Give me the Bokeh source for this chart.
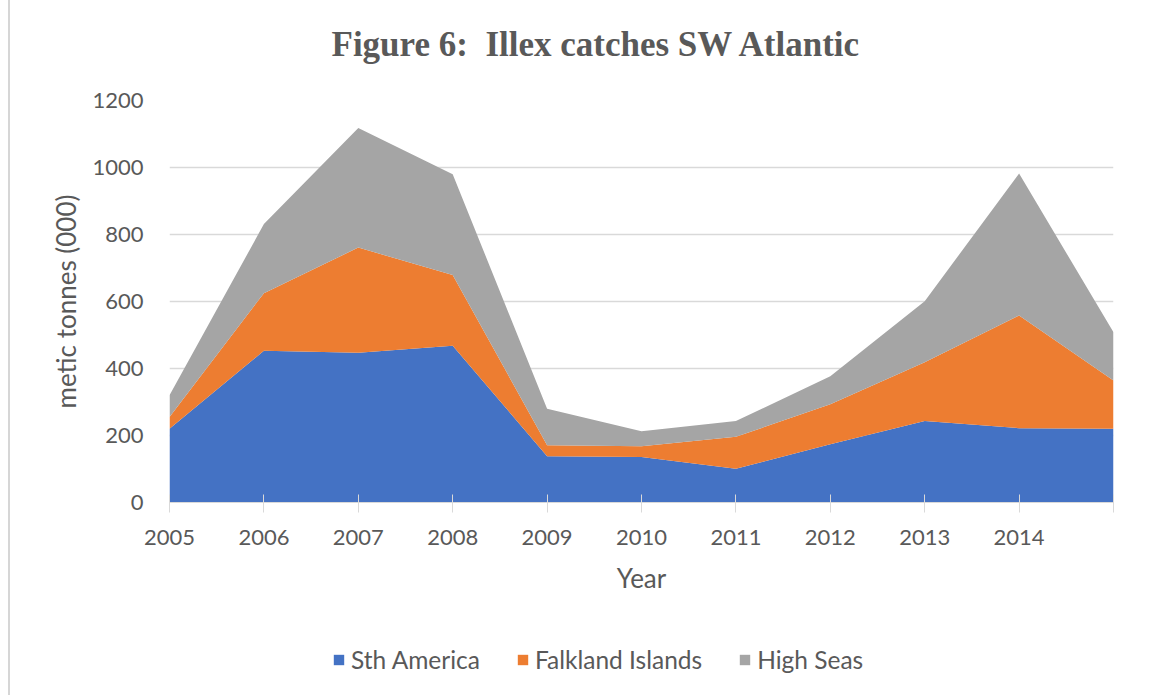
from bokeh.plotting import figure
from bokeh.layouts import column, row
from bokeh.models import (ColumnDataSource, FixedTicker, Legend, LegendItem,
                          Range1d, Label, Div)
from bokeh.embed import file_html
from bokeh.resources import INLINE

# Illex catches in the SW Atlantic, thousands of tonnes, by fishing area
years = [2005, 2006, 2007, 2008, 2009, 2010, 2011, 2012, 2013, 2014, 2015]
sth_america = [220, 453, 447, 468, 138, 136, 101, 174, 243, 222, 220]
falkland_islands = [35, 172, 314, 211, 33, 32, 95, 119, 176, 336, 144]
high_seas = [65, 206, 357, 301, 109, 45, 47, 84, 182, 424, 144]

series_names = ["Sth America", "Falkland Islands", "High Seas"]
series_colors = ["#4472C4", "#ED7D31", "#A5A5A5"]
x_tick_labels = ["2005", "2006", "2007", "2008", "2009", "2010",
                 "2011", "2012", "2013", "2014", ""]
y_ticks = [0, 200, 400, 600, 800, 1000, 1200]
title_text = "Figure 6:\u00a0 Illex catches SW Atlantic"

TEXT = "#595959"
GRID = "#D9D9D9"
FONT = "Lato"
EDGE = 10          # strip holding the chart box's left rule
W = 1165 - EDGE
LEFT, RIGHT = 169 - EDGE, 52      # borders around the plotting frame
FRAME_W = W - LEFT - RIGHT

source = ColumnDataSource(dict(year=years, sa=sth_america,
                               fi=falkland_islands, hs=high_seas))


def blank_strip(height):
    """A figure whose frame is only used to hold an annotation."""
    f = figure(width=W, height=height, output_backend="svg",
               toolbar_location=None, x_range=Range1d(0, FRAME_W),
               y_range=Range1d(0, height), min_border=0, title=None)
    f.axis.visible = False
    f.grid.visible = False
    f.outline_line_color = None
    f.background_fill_color = "white"
    f.border_fill_color = "white"
    return f


# ---- title strip -----------------------------------------------------------
tf = blank_strip(80)
tf.add_layout(Label(x=162, y=36, x_units="screen", y_units="screen",
                    text=title_text, text_font="Liberation Serif",
                    text_font_style="bold", text_font_size="35px",
                    text_color=TEXT, text_align="left",
                    text_baseline="alphabetic"))

# ---- main chart -----------------------------------------------------------
p = figure(width=W, height=545, output_backend="svg", toolbar_location=None,
           x_range=Range1d(2005, 2015), y_range=Range1d(0, 1200),
           min_border_left=LEFT, min_border_right=RIGHT,
           min_border_top=20, min_border_bottom=123, title=None)
p.outline_line_color = None
p.background_fill_color = "white"
p.border_fill_color = "white"

p.varea_stack(["sa", "fi", "hs"], x="year", source=source,
              color=series_colors)

# x axis: light axis line with crossing ticks, one label per year
xa = p.xaxis[0]
xa.ticker = FixedTicker(ticks=years)
xa.major_label_overrides = {y: lab for y, lab in zip(years, x_tick_labels)}
xa.axis_line_color = GRID
xa.major_tick_line_color = GRID
xa.major_tick_in = 8
xa.major_tick_out = 10
xa.minor_tick_line_color = None
xa.major_label_standoff = 17
xa.major_label_text_font = FONT
xa.major_label_text_font_size = "22px"
xa.major_label_text_color = TEXT
xa.axis_label = "Year"
xa.axis_label_text_font = FONT
xa.axis_label_text_font_size = "26px"
xa.axis_label_text_font_style = "normal"
xa.axis_label_text_color = TEXT
xa.axis_label_standoff = 14

# y axis: no line or ticks, gridlines only
ya = p.yaxis[0]
ya.ticker = FixedTicker(ticks=y_ticks)
ya.axis_line_color = None
ya.major_tick_line_color = None
ya.minor_tick_line_color = None
ya.major_tick_out = 0
ya.major_tick_in = 0
ya.major_label_standoff = 26
ya.major_label_text_font = FONT
ya.major_label_text_font_size = "22px"
ya.major_label_text_color = TEXT
ya.axis_label = "metic tonnes (000)"
ya.axis_label_text_font = FONT
ya.axis_label_text_font_size = "26px"
ya.axis_label_text_font_style = "normal"
ya.axis_label_text_color = TEXT
ya.axis_label_standoff = 7

p.xgrid.grid_line_color = None
p.ygrid.ticker = FixedTicker(ticks=y_ticks)
p.ygrid.grid_line_color = GRID
p.ygrid.grid_line_width = 1.5

# ---- legend strip ----------------------------------------------------------
lf = blank_strip(70)
# same stacked series; the strip's x range holds no years, so only the
# legend keys of these renderers are seen
keys = lf.varea_stack(["sa", "fi", "hs"], x="year", source=source,
                      color=series_colors)
legend = Legend(items=[LegendItem(label=n, renderers=[r])
                       for n, r in zip(series_names, keys)],
                orientation="horizontal", location=(163, 21),
                glyph_width=13, glyph_height=13, label_standoff=6,
                spacing=36, padding=0, margin=0,
                label_text_font=FONT, label_text_font_size="24.5px",
                label_text_color=TEXT, border_line_color=None,
                background_fill_alpha=0)
lf.add_layout(legend)

# left rule of the chart box
edge = Div(width=EDGE, height=695, margin=0,
           styles={"box-sizing": "border-box",
                   "border-right": "2px solid #D6D6D6"})

page = row(edge, column(tf, p, lf, spacing=0), spacing=0)

open("out.html", "w").write(file_html(page, INLINE))
